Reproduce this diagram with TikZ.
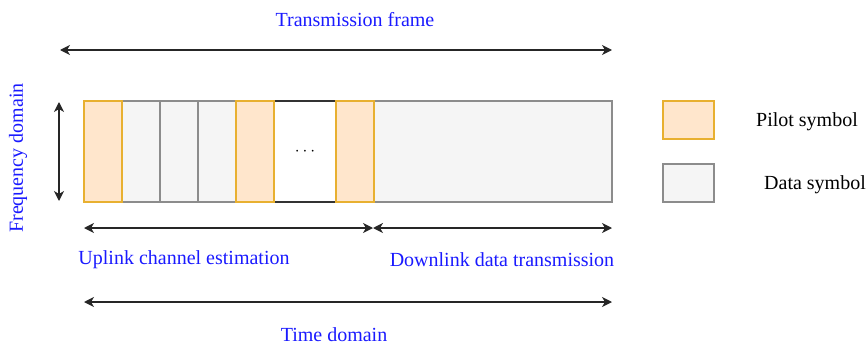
\documentclass[tikz,border=0pt]{standalone}
\usepackage{fontspec}
\setmainfont{Liberation Serif}
\newfontfamily\timesfont{Liberation Serif}
\usetikzlibrary{arrows.meta,positioning}
\definecolor{pilotFill}{HTML}{FFE6CC}
\definecolor{pilotLine}{HTML}{E8B030}
\definecolor{dataFill}{HTML}{F5F5F5}
\definecolor{dataLine}{HTML}{8C8C8C}
\definecolor{labelBlue}{HTML}{1A1AFF}

\begin{document}
\begin{tikzpicture}[x=1pt,y=-1pt,>={Stealth[length=10pt,width=10pt,inset=3pt]},
  slot/.style={anchor=north west,minimum height=101pt,minimum width=38pt,inner sep=0pt,outer sep=0pt,line width=1.2pt},
  pilot/.style={slot,draw=pilotLine,fill=pilotFill},
  datasym/.style={slot,draw=dataLine,fill=dataFill},
  axis/.style={<->,line width=1.4pt,draw=black!85},
  tag/.style={font=\timesfont\fontsize{20}{24}\selectfont,text=labelBlue,inner sep=0pt}]
  \useasboundingbox (0,0) rectangle (868,348);
  % slots of one frame
  \node[slot,draw=black!80,fill=white,minimum width=62pt,font=\fontsize{16}{18}\selectfont] (gap) at (274,101) {$\cdots$};
  \node[datasym] (d1) at (122,101) {};
  \node[datasym] (d2) at (160,101) {};
  \node[datasym] (d3) at (198,101) {};
  \node[datasym,minimum width=238pt] (dl) at (374,101) {};
  \node[pilot] (p1) at (84,101) {};
  \node[pilot] (p2) at (236,101) {};
  \node[pilot] (p3) at (336,101) {};
  % legend
  \node[pilot,minimum width=51pt,minimum height=38pt] (keyP) at (663,101) {};
  \node[datasym,minimum width=51pt,minimum height=38pt] (keyD) at (663,164) {};
  \node[tag,text=black] (keyPtxt) at (807,122) {Pilot symbol};
  \node[tag,text=black] (keyDtxt) at (815,185) {Data symbol};
  % end points of the arrows
  \coordinate (frameL) at (60,50);
  \coordinate (frameR) at (612,50);
  \coordinate (freqT) at (59,102);
  \coordinate (freqB) at (59,201);
  \coordinate (upL) at (84,228);
  \coordinate (split) at (373,228);
  \coordinate (downR) at (612,228);
  \coordinate (timeL) at (84,302);
  \coordinate (timeR) at (612,302);
  \draw[axis] (frameL) -- (frameR);
  \draw[axis] (freqT) -- (freqB);
  \draw[axis] (upL) -- (split);
  \draw[axis] (split) -- (downR);
  \draw[axis] (timeL) -- (timeR);
  % labels
  \node[tag] (frame) at (355,20) {Transmission frame};
  \node[tag,rotate=90] (freq) at (18,158) {Frequency domain};
  \node[tag] (uplink) at (184,260) {Uplink channel estimation};
  \node[tag] (downlink) at (502,260) {Downlink data transmission};
  \node[tag] (time) at (334,335) {Time domain};
\end{tikzpicture}
\end{document}
